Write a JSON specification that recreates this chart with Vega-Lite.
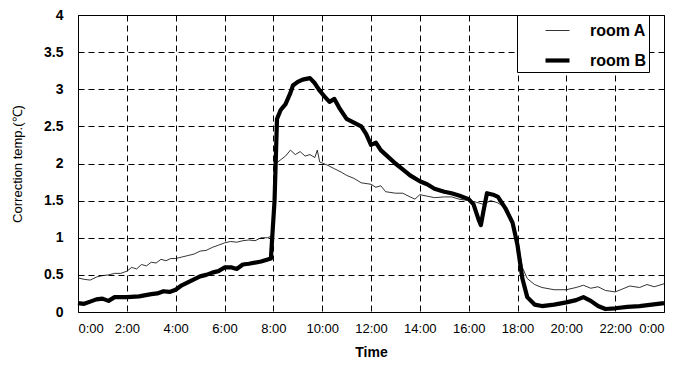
{
  "$schema": "https://vega.github.io/schema/vega-lite/v6.json",
  "width": 586,
  "height": 297,
  "autosize": "none",
  "padding": {"left": 78, "top": 15, "right": 19, "bottom": 66},
  "background": "white",
  "config": {
    "font": "Liberation Sans",
    "view": {"stroke": "black", "strokeWidth": 1}
  },
  "data": {
    "values": [
      {"t":0,"room":"room A","v":0.46},{"t":0.25,"room":"room A","v":0.44},{"t":0.5,"room":"room A","v":0.43},{"t":0.75,"room":"room A","v":0.47},{"t":1.0,"room":"room A","v":0.49},{"t":1.25,"room":"room A","v":0.5},{"t":1.5,"room":"room A","v":0.52},{"t":1.75,"room":"room A","v":0.52},{"t":2.0,"room":"room A","v":0.55},{"t":2.2,"room":"room A","v":0.6},{"t":2.4,"room":"room A","v":0.58},{"t":2.6,"room":"room A","v":0.64},{"t":2.8,"room":"room A","v":0.62},{"t":3.0,"room":"room A","v":0.67},{"t":3.2,"room":"room A","v":0.66},{"t":3.4,"room":"room A","v":0.71},{"t":3.6,"room":"room A","v":0.69},{"t":3.8,"room":"room A","v":0.72},{"t":4.0,"room":"room A","v":0.72},{"t":4.25,"room":"room A","v":0.74},{"t":4.5,"room":"room A","v":0.76},{"t":4.75,"room":"room A","v":0.78},{"t":5.0,"room":"room A","v":0.82},{"t":5.25,"room":"room A","v":0.83},{"t":5.5,"room":"room A","v":0.87},{"t":5.75,"room":"room A","v":0.9},{"t":6.0,"room":"room A","v":0.93},{"t":6.25,"room":"room A","v":0.95},{"t":6.5,"room":"room A","v":0.94},{"t":6.75,"room":"room A","v":0.96},{"t":7.0,"room":"room A","v":0.97},{"t":7.25,"room":"room A","v":0.96},{"t":7.5,"room":"room A","v":1.0},{"t":7.75,"room":"room A","v":1.0},{"t":8.0,"room":"room A","v":1.03},{"t":8.1,"room":"room A","v":2.0},{"t":8.3,"room":"room A","v":2.05},{"t":8.5,"room":"room A","v":2.1},{"t":8.7,"room":"room A","v":2.18},{"t":8.9,"room":"room A","v":2.12},{"t":9.1,"room":"room A","v":2.16},{"t":9.3,"room":"room A","v":2.1},{"t":9.5,"room":"room A","v":2.12},{"t":9.7,"room":"room A","v":2.08},{"t":9.8,"room":"room A","v":2.18},{"t":9.9,"room":"room A","v":2.02},{"t":10.2,"room":"room A","v":1.98},{"t":10.5,"room":"room A","v":1.93},{"t":10.8,"room":"room A","v":1.88},{"t":11.0,"room":"room A","v":1.84},{"t":11.3,"room":"room A","v":1.8},{"t":11.6,"room":"room A","v":1.74},{"t":12.0,"room":"room A","v":1.72},{"t":12.2,"room":"room A","v":1.68},{"t":12.4,"room":"room A","v":1.7},{"t":12.6,"room":"room A","v":1.62},{"t":13.0,"room":"room A","v":1.6},{"t":13.3,"room":"room A","v":1.6},{"t":13.6,"room":"room A","v":1.55},{"t":13.8,"room":"room A","v":1.52},{"t":14.0,"room":"room A","v":1.58},{"t":14.3,"room":"room A","v":1.56},{"t":14.6,"room":"room A","v":1.54},{"t":15.0,"room":"room A","v":1.55},{"t":15.3,"room":"room A","v":1.55},{"t":15.6,"room":"room A","v":1.52},{"t":16.0,"room":"room A","v":1.5},{"t":16.3,"room":"room A","v":1.48},{"t":16.6,"room":"room A","v":1.45},{"t":16.9,"room":"room A","v":1.5},{"t":17.2,"room":"room A","v":1.47},{"t":17.5,"room":"room A","v":1.4},{"t":17.8,"room":"room A","v":1.2},{"t":18.0,"room":"room A","v":0.95},{"t":18.2,"room":"room A","v":0.6},{"t":18.4,"room":"room A","v":0.45},{"t":18.7,"room":"room A","v":0.37},{"t":19.0,"room":"room A","v":0.33},{"t":19.5,"room":"room A","v":0.3},{"t":20.0,"room":"room A","v":0.3},{"t":20.4,"room":"room A","v":0.33},{"t":20.7,"room":"room A","v":0.36},{"t":21.0,"room":"room A","v":0.32},{"t":21.3,"room":"room A","v":0.34},{"t":21.6,"room":"room A","v":0.29},{"t":22.0,"room":"room A","v":0.27},{"t":22.3,"room":"room A","v":0.31},{"t":22.6,"room":"room A","v":0.35},{"t":23.0,"room":"room A","v":0.33},{"t":23.3,"room":"room A","v":0.37},{"t":23.6,"room":"room A","v":0.34},{"t":24.0,"room":"room A","v":0.38},
      {"t":0,"room":"room B","v":0.12},{"t":0.25,"room":"room B","v":0.11},{"t":0.5,"room":"room B","v":0.14},{"t":0.75,"room":"room B","v":0.17},{"t":1.0,"room":"room B","v":0.18},{"t":1.25,"room":"room B","v":0.15},{"t":1.5,"room":"room B","v":0.2},{"t":2.0,"room":"room B","v":0.2},{"t":2.5,"room":"room B","v":0.21},{"t":3.0,"room":"room B","v":0.24},{"t":3.25,"room":"room B","v":0.25},{"t":3.5,"room":"room B","v":0.28},{"t":3.75,"room":"room B","v":0.27},{"t":4.0,"room":"room B","v":0.3},{"t":4.25,"room":"room B","v":0.36},{"t":4.5,"room":"room B","v":0.4},{"t":4.75,"room":"room B","v":0.44},{"t":5.0,"room":"room B","v":0.48},{"t":5.25,"room":"room B","v":0.5},{"t":5.5,"room":"room B","v":0.53},{"t":5.75,"room":"room B","v":0.55},{"t":6.0,"room":"room B","v":0.6},{"t":6.3,"room":"room B","v":0.6},{"t":6.5,"room":"room B","v":0.58},{"t":6.75,"room":"room B","v":0.64},{"t":7.0,"room":"room B","v":0.65},{"t":7.5,"room":"room B","v":0.68},{"t":7.9,"room":"room B","v":0.72},{"t":8.05,"room":"room B","v":1.5},{"t":8.15,"room":"room B","v":2.6},{"t":8.3,"room":"room B","v":2.72},{"t":8.5,"room":"room B","v":2.8},{"t":8.7,"room":"room B","v":2.95},{"t":8.8,"room":"room B","v":3.05},{"t":9.0,"room":"room B","v":3.1},{"t":9.2,"room":"room B","v":3.13},{"t":9.5,"room":"room B","v":3.15},{"t":9.7,"room":"room B","v":3.08},{"t":9.9,"room":"room B","v":2.98},{"t":10.1,"room":"room B","v":2.9},{"t":10.3,"room":"room B","v":2.83},{"t":10.5,"room":"room B","v":2.87},{"t":10.7,"room":"room B","v":2.75},{"t":11.0,"room":"room B","v":2.6},{"t":11.3,"room":"room B","v":2.55},{"t":11.6,"room":"room B","v":2.5},{"t":11.8,"room":"room B","v":2.4},{"t":12.0,"room":"room B","v":2.25},{"t":12.2,"room":"room B","v":2.28},{"t":12.4,"room":"room B","v":2.18},{"t":12.6,"room":"room B","v":2.12},{"t":13.0,"room":"room B","v":2.0},{"t":13.3,"room":"room B","v":1.92},{"t":13.6,"room":"room B","v":1.84},{"t":14.0,"room":"room B","v":1.76},{"t":14.3,"room":"room B","v":1.72},{"t":14.6,"room":"room B","v":1.66},{"t":15.0,"room":"room B","v":1.62},{"t":15.3,"room":"room B","v":1.6},{"t":15.6,"room":"room B","v":1.57},{"t":16.0,"room":"room B","v":1.52},{"t":16.2,"room":"room B","v":1.45},{"t":16.4,"room":"room B","v":1.25},{"t":16.5,"room":"room B","v":1.17},{"t":16.6,"room":"room B","v":1.35},{"t":16.75,"room":"room B","v":1.6},{"t":17.0,"room":"room B","v":1.58},{"t":17.2,"room":"room B","v":1.55},{"t":17.5,"room":"room B","v":1.4},{"t":17.8,"room":"room B","v":1.2},{"t":18.0,"room":"room B","v":0.9},{"t":18.2,"room":"room B","v":0.45},{"t":18.4,"room":"room B","v":0.2},{"t":18.7,"room":"room B","v":0.1},{"t":19.0,"room":"room B","v":0.08},{"t":19.5,"room":"room B","v":0.1},{"t":20.0,"room":"room B","v":0.13},{"t":20.4,"room":"room B","v":0.16},{"t":20.7,"room":"room B","v":0.2},{"t":21.0,"room":"room B","v":0.15},{"t":21.3,"room":"room B","v":0.08},{"t":21.6,"room":"room B","v":0.04},{"t":22.0,"room":"room B","v":0.05},{"t":22.5,"room":"room B","v":0.07},{"t":23.0,"room":"room B","v":0.08},{"t":23.5,"room":"room B","v":0.1},{"t":24.0,"room":"room B","v":0.12}
    ]
  },
  "mark": {"type": "line", "stroke": "black", "strokeJoin": "round"},
  "encoding": {
    "x": {
      "field": "t", "type": "quantitative",
      "scale": {"domain": [0, 24], "nice": false},
      "axis": {
        "values": [0, 2, 4, 6, 8, 10, 12, 14, 16, 18, 20, 22, 24],
        "labelExpr": "(datum.value % 24) + ':00'",
        "title": "Time",
        "titleFontSize": 14, "titleFontWeight": "bold", "titlePadding": 10,
        "labelFontSize": 13, "labelColor": "black", "labelPadding": 10,
        "ticks": false, "domain": false,
        "gridColor": "black", "gridDash": [6, 4], "gridOpacity": 1, "gridWidth": 1
      }
    },
    "y": {
      "field": "v", "type": "quantitative",
      "scale": {"domain": [0, 4], "nice": false},
      "axis": {
        "values": [0, 0.5, 1, 1.5, 2, 2.5, 3, 3.5, 4],
        "format": "~g",
        "title": "Correction temp.(℃)",
        "titleFontSize": 13, "titleFontWeight": "normal", "titlePadding": 19,
        "labelFontSize": 14, "labelFontWeight": "bold", "labelColor": "black", "labelPadding": 15,
        "ticks": false, "domain": false,
        "gridColor": "black", "gridDash": [6, 4], "gridOpacity": 1, "gridWidth": 1
      }
    },
    "strokeWidth": {
      "field": "room", "type": "nominal",
      "scale": {"domain": ["room A", "room B"], "range": [0.8, 4.2]},
      "legend": {
        "title": null,
        "orient": "none",
        "legendX": 439,
        "legendY": 0,
        "symbolType": "stroke",
        "symbolSize": 576,
        "symbolOffset": 23,
        "symbolStrokeColor": "black",
        "labelFontSize": 16,
        "labelFontWeight": "bold",
        "labelColor": "black",
        "labelOffset": 18,
        "rowPadding": 7,
        "padding": 3,
        "strokeColor": "black",
        "fillColor": "white"
      }
    }
  }
}
